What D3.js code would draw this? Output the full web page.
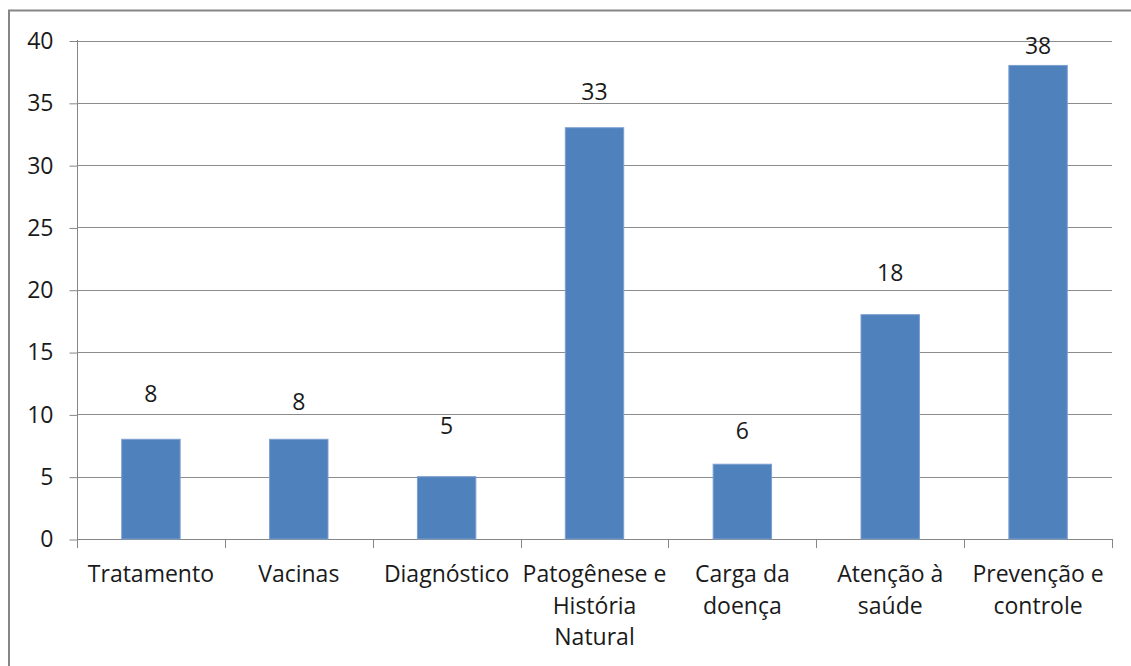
<!DOCTYPE html>
<html><head><meta charset="utf-8">
<script src="https://cdn.jsdelivr.net/npm/d3@7"></script>
<style>
html,body{margin:0;padding:0;background:#fff;}
svg{display:block;}
text{font-family:"Open Sans", Lato, sans-serif;fill:#1a1a1a;}
</style></head>
<body>
<svg id="chart" width="1131" height="666"></svg>
<script>
const categories = ["Tratamento","Vacinas","Diagnóstico","Patogênese e|História|Natural","Carga da|doença","Atenção à|saúde","Prevenção e|controle"];
const values = [8, 8, 5, 33, 6, 18, 38];
const yTicks = [0, 5, 10, 15, 20, 25, 30, 35, 40];

// layout
const W = 1131, H = 666;
const plot = {left: 77, right: 1112, top: 40.5, bottom: 539};
const labelGap = [37, 29, 43, 28, 25, 34, 11]; // manual label placement (px above bar)
const fontSize = 23;

const svg = d3.select("#chart");

// chart frame
svg.append("rect").attr("x", 9).attr("y", 10.5).attr("width", W + 20).attr("height", H + 20)
  .attr("fill", "#fff").attr("stroke", "#868686").attr("stroke-width", 2);

const x = d3.scaleBand().domain(categories).range([plot.left, plot.right]).paddingInner(0.605).paddingOuter(0.3025);
const y = d3.scaleLinear().domain([0, 40]).range([plot.bottom, plot.top]);

// gridlines
svg.append("g").selectAll("line").data(yTicks.filter(d => d > 0)).join("line")
  .attr("x1", plot.left).attr("x2", plot.right)
  .attr("y1", d => Math.round(y(d)) + 0.5).attr("y2", d => Math.round(y(d)) + 0.5)
  .attr("stroke", "#8c8c8c").attr("stroke-width", 1);

// y axis
const yAxis = d3.axisLeft(y).tickValues(yTicks).tickSize(8).tickPadding(16);
const gy = svg.append("g").attr("transform", `translate(${plot.left + 0.5},0.5)`).call(yAxis);
gy.select(".domain").attr("stroke", "#868686").attr("d", `M0,${plot.top - 1}V${plot.bottom}`);
gy.selectAll(".tick line").attr("stroke", "#868686");
gy.selectAll(".tick text").attr("font-size", fontSize).attr("font-family", "Open Sans").attr("fill", "#1a1a1a");

// x axis line and ticks
const bounds = d3.range(categories.length + 1).map(i => plot.left + i * (plot.right - plot.left) / categories.length);
svg.append("line").attr("x1", plot.left).attr("x2", plot.right)
  .attr("y1", plot.bottom + 0.5).attr("y2", plot.bottom + 0.5).attr("stroke", "#868686");
svg.append("g").selectAll("line").data(bounds).join("line")
  .attr("x1", d => Math.round(d) + 0.5).attr("x2", d => Math.round(d) + 0.5)
  .attr("y1", plot.bottom).attr("y2", plot.bottom + 9).attr("stroke", "#868686");

// bars
svg.append("g").selectAll("rect").data(values).join("rect")
  .attr("x", (d, i) => x(categories[i]))
  .attr("width", x.bandwidth())
  .attr("y", d => y(d))
  .attr("height", d => y(0) - y(d))
  .attr("fill", "#4f81bd")
  .attr("stroke", "#7b9fcf").attr("stroke-width", 1);

// value labels
svg.append("g").selectAll("text").data(values).join("text")
  .attr("x", (d, i) => x(categories[i]) + x.bandwidth() / 2)
  .attr("y", (d, i) => y(d) - labelGap[i])
  .attr("text-anchor", "middle").attr("font-size", fontSize)
  .text(d => d);

// category labels
const cl = svg.append("g").selectAll("text").data(categories).join("text")
  .attr("x", d => x(d) + x.bandwidth() / 2)
  .attr("y", plot.bottom + 43)
  .attr("text-anchor", "middle").attr("font-size", fontSize);
cl.each(function(d) {
  const t = d3.select(this);
  d.split("|").forEach((line, i) => {
    t.append("tspan").attr("x", t.attr("x")).attr("dy", i === 0 ? 0 : 31.7).text(line);
  });
});
</script>
</body></html>
